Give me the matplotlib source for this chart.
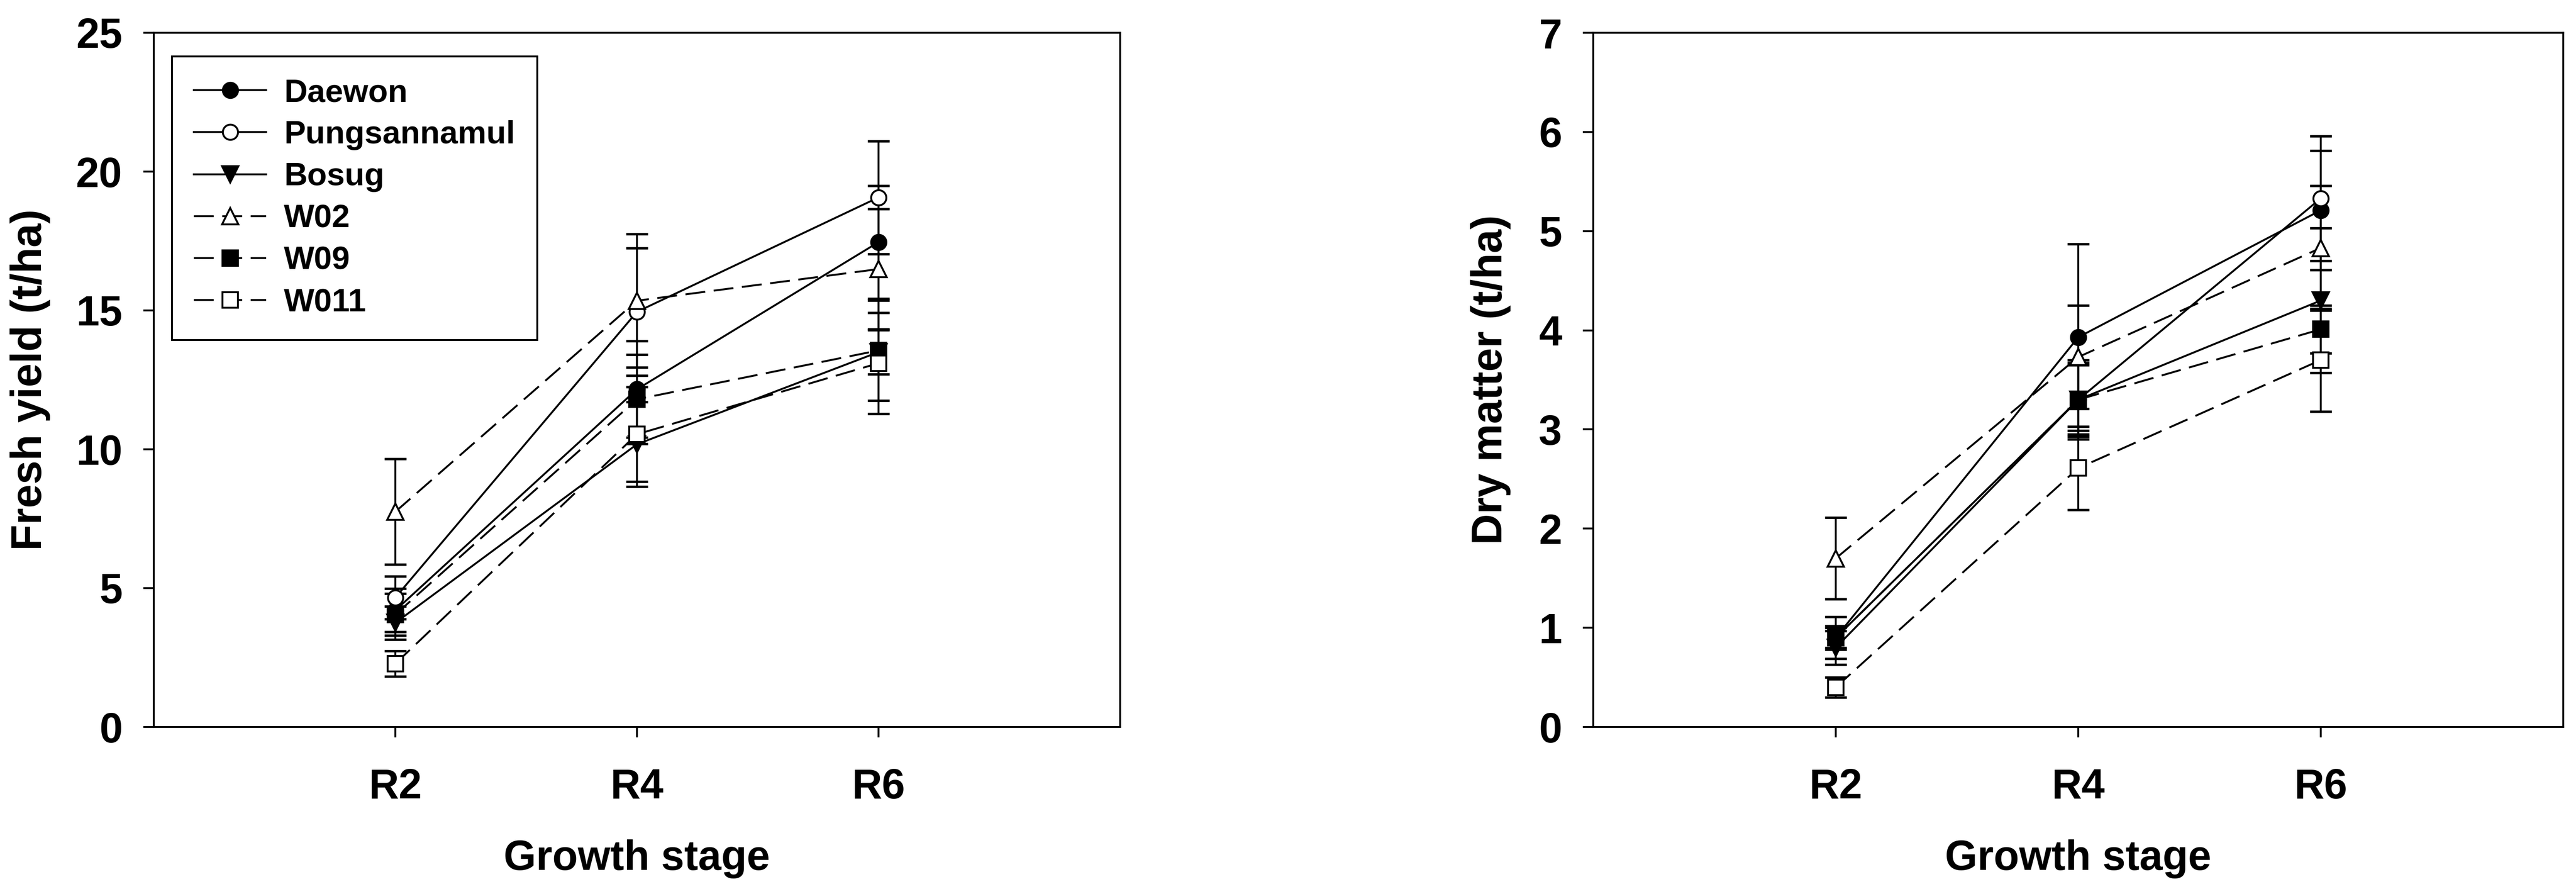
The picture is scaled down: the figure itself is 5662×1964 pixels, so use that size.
import numpy as np
import matplotlib
matplotlib.use('Agg')
import matplotlib.pyplot as plt

plt.rcParams['font.family'] = ['Liberation Sans', 'DejaVu Sans']
plt.rcParams['font.weight'] = 'bold'
plt.rcParams['lines.scale_dashes'] = False

# growth stages on the x axis
stages = ['R2', 'R4', 'R6']
cultivars = ['Daewon', 'Pungsannamul', 'Bosug', 'W02', 'W09', 'W011']

# fresh yield (t/ha) and its error bars
fresh_daewon = [4.2, 12.16, 17.46]
fresh_pung = [4.66, 14.95, 19.07]
fresh_bosug = [3.75, 10.18, 13.5]
fresh_w02 = [7.75, 15.35, 16.49]
fresh_w09 = [4.05, 11.8, 13.56]
fresh_w011 = [2.28, 10.54, 13.1]
fresh_err_daewon = [0.78, 1.74, 2.03]
fresh_err_pung = [0.77, 2.3, 2.03]
fresh_err_bosug = [0.6, 1.52, 0.8]
fresh_err_w02 = [1.9, 2.4, 2.17]
fresh_err_w09 = [0.76, 1.61, 1.8]
fresh_err_w011 = [0.46, 1.7, 1.82]

# dry matter (t/ha) and its error bars
dry_daewon = [0.9, 3.93, 5.21]
dry_pung = [0.9, 3.3, 5.33]
dry_bosug = [0.8, 3.3, 4.3]
dry_w02 = [1.7, 3.73, 4.83]
dry_w09 = [0.9, 3.3, 4.01]
dry_w011 = [0.4, 2.61, 3.70]
dry_err_daewon = [0.21, 0.94, 0.6]
dry_err_pung = [0.1, 0.4, 0.63]
dry_err_bosug = [0.17, 0.37, 0.73]
dry_err_w02 = [0.41, 0.52, 0.63]
dry_err_w09 = [0.12, 0.35, 0.24]
dry_err_w011 = [0.1, 0.42, 0.52]

fresh = [fresh_daewon, fresh_pung, fresh_bosug, fresh_w02, fresh_w09, fresh_w011]
fresh_err = [fresh_err_daewon, fresh_err_pung, fresh_err_bosug,
             fresh_err_w02, fresh_err_w09, fresh_err_w011]
dry = [dry_daewon, dry_pung, dry_bosug, dry_w02, dry_w09, dry_w011]
dry_err = [dry_err_daewon, dry_err_pung, dry_err_bosug,
           dry_err_w02, dry_err_w09, dry_err_w011]

# (marker, face colour, solid?) per cultivar
styles = [('o', 'black', True), ('o', 'white', True), ('v', 'black', True),
          ('^', 'white', False), ('s', 'black', False), ('s', 'white', False)]

W, H = 5662, 1964
fig = plt.figure(figsize=(W / 300, H / 300), dpi=300)
ax1 = fig.add_axes([338 / W, 1 - 1597 / H, 2124 / W, 1525 / H])
ax2 = fig.add_axes([3502 / W, 1 - 1597 / H, 2132 / W, 1525 / H])

x = np.arange(1, len(stages) + 1)


def draw(ax, values, errors):
    handles = []
    for i, name in enumerate(cultivars):
        marker, face, solid = styles[i]
        ls = '-' if solid else (0, (10.5, 4.5))
        ax.errorbar(x, values[i], yerr=errors[i], fmt='none', ecolor='black',
                    elinewidth=1.0, capsize=5.8, capthick=1.3, zorder=2)
        ms = 8.5 if marker in ('^', 'v') else 8
        h, = ax.plot(x, values[i], linestyle=ls, color='black', linewidth=1.0,
                     marker=marker, markersize=ms, markerfacecolor=face,
                     markeredgecolor='black', markeredgewidth=1.0,
                     label=name, zorder=3)
        handles.append(h)
    ax.set_xlim(0, 4)
    ax.set_xticks(x)
    ax.set_xticklabels(stages)
    for sp in ax.spines.values():
        sp.set_linewidth(1.0)
    ax.tick_params(axis='both', direction='out', length=5.5, width=1.0,
                   labelsize=22, top=False, right=False)
    ax.tick_params(axis='x', pad=16)
    ax.tick_params(axis='y', pad=11)
    ax.set_xlabel('Growth stage', fontsize=22, fontweight='bold')
    ax.xaxis.label.set_va('center')
    ax.xaxis.set_label_coords(0.5, -0.19)
    return handles


handles = draw(ax1, fresh, fresh_err)
ax1.set_ylim(0, 25)
ax1.set_yticks(np.arange(0, 26, 5))
ax1.set_ylabel('Fresh yield (t/ha)', fontsize=22.5, fontweight='bold')
ax1.yaxis.label.set_va('center')
ax1.yaxis.set_label_coords(-0.128, 0.5)

leg = ax1.legend(handles=handles, loc='upper left', bbox_to_anchor=(0.0188, 0.966),
                 borderaxespad=0, fancybox=False, framealpha=1, edgecolor='black',
                 prop={'weight': 'bold', 'size': 17}, handlelength=2.25,
                 handletextpad=0.55, borderpad=0.68, labelspacing=0.37)
leg.get_frame().set_linewidth(1.0)

draw(ax2, dry, dry_err)
ax2.set_ylim(0, 7)
ax2.set_yticks(np.arange(0, 8, 1))
ax2.set_ylabel('Dry matter (t/ha)', fontsize=22.5, fontweight='bold')
ax2.yaxis.label.set_va('center')
ax2.yaxis.set_label_coords(-0.106, 0.5)

fig.savefig('out.png', dpi=300)
